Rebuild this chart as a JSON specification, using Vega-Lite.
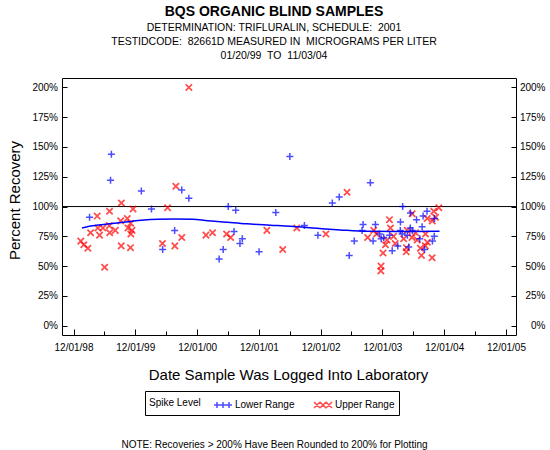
{
  "$schema": "https://vega.github.io/schema/vega-lite/v6.json",
  "width": 454,
  "height": 257,
  "autosize": {"type": "none"},
  "padding": {"left": 62, "top": 78, "right": 34, "bottom": 115},
  "background": "white",
  "title": {
    "text": "BQS ORGANIC BLIND SAMPLES",
    "subtitle": ["DETERMINATION: TRIFLURALIN, SCHEDULE:\u00a0 2001", "TESTIDCODE:\u00a0 82661D MEASURED IN\u00a0 MICROGRAMS PER LITER", "01/20/99\u00a0 TO\u00a0 11/03/04"],
    "anchor": "middle",
    "dx": -15,
    "offset": 17,
    "font": "Liberation Sans",
    "fontSize": 14,
    "fontWeight": "bold",
    "color": "black",
    "subtitleFont": "Liberation Sans",
    "subtitleFontSize": 10.5,
    "subtitleColor": "black",
    "subtitleLineHeight": 14,
    "subtitlePadding": 4
  },
  "datasets": {
    "samples": [
      {"date": "1999-01-13", "recovery": 71, "range": "Upper Range"},
      {"date": "1999-01-31", "recovery": 68, "range": "Upper Range"},
      {"date": "1999-02-24", "recovery": 65, "range": "Upper Range"},
      {"date": "1999-03-12", "recovery": 78, "range": "Upper Range"},
      {"date": "1999-04-20", "recovery": 92, "range": "Upper Range"},
      {"date": "1999-04-24", "recovery": 82, "range": "Upper Range"},
      {"date": "1999-05-04", "recovery": 76, "range": "Upper Range"},
      {"date": "1999-05-24", "recovery": 82, "range": "Upper Range"},
      {"date": "1999-06-03", "recovery": 49, "range": "Upper Range"},
      {"date": "1999-07-02", "recovery": 96, "range": "Upper Range"},
      {"date": "1999-07-01", "recovery": 84, "range": "Upper Range"},
      {"date": "1999-07-03", "recovery": 78, "range": "Upper Range"},
      {"date": "1999-08-05", "recovery": 80, "range": "Upper Range"},
      {"date": "1999-09-10", "recovery": 103, "range": "Upper Range"},
      {"date": "1999-09-06", "recovery": 88, "range": "Upper Range"},
      {"date": "1999-09-09", "recovery": 67, "range": "Upper Range"},
      {"date": "1999-10-15", "recovery": 90, "range": "Upper Range"},
      {"date": "1999-10-19", "recovery": 82, "range": "Upper Range"},
      {"date": "1999-11-04", "recovery": 86, "range": "Upper Range"},
      {"date": "1999-11-18", "recovery": 98, "range": "Upper Range"},
      {"date": "1999-11-12", "recovery": 80, "range": "Upper Range"},
      {"date": "1999-11-05", "recovery": 77, "range": "Upper Range"},
      {"date": "1999-11-03", "recovery": 65.5, "range": "Upper Range"},
      {"date": "2000-05-10", "recovery": 69, "range": "Upper Range"},
      {"date": "2000-06-09", "recovery": 99, "range": "Upper Range"},
      {"date": "2000-07-22", "recovery": 67, "range": "Upper Range"},
      {"date": "2000-07-28", "recovery": 117, "range": "Upper Range"},
      {"date": "2000-09-01", "recovery": 74, "range": "Upper Range"},
      {"date": "2000-10-13", "recovery": 200, "range": "Upper Range"},
      {"date": "2001-01-22", "recovery": 76, "range": "Upper Range"},
      {"date": "2001-03-02", "recovery": 78, "range": "Upper Range"},
      {"date": "2001-05-24", "recovery": 77, "range": "Upper Range"},
      {"date": "2001-06-17", "recovery": 74, "range": "Upper Range"},
      {"date": "2002-01-17", "recovery": 80, "range": "Upper Range"},
      {"date": "2002-04-21", "recovery": 64, "range": "Upper Range"},
      {"date": "2002-07-13", "recovery": 82, "range": "Upper Range"},
      {"date": "2003-01-01", "recovery": 77, "range": "Upper Range"},
      {"date": "2003-05-06", "recovery": 112, "range": "Upper Range"},
      {"date": "2003-09-05", "recovery": 74, "range": "Upper Range"},
      {"date": "2003-10-11", "recovery": 80, "range": "Upper Range"},
      {"date": "2003-10-27", "recovery": 77, "range": "Upper Range"},
      {"date": "2003-11-23", "recovery": 50, "range": "Upper Range"},
      {"date": "2003-11-22", "recovery": 46, "range": "Upper Range"},
      {"date": "2003-12-05", "recovery": 61, "range": "Upper Range"},
      {"date": "2003-12-19", "recovery": 68, "range": "Upper Range"},
      {"date": "2003-12-29", "recovery": 72, "range": "Upper Range"},
      {"date": "2004-01-12", "recovery": 89, "range": "Upper Range"},
      {"date": "2004-01-18", "recovery": 82, "range": "Upper Range"},
      {"date": "2004-02-05", "recovery": 75, "range": "Upper Range"},
      {"date": "2004-02-15", "recovery": 69, "range": "Upper Range"},
      {"date": "2004-04-05", "recovery": 73, "range": "Upper Range"},
      {"date": "2004-04-21", "recovery": 65.5, "range": "Upper Range"},
      {"date": "2004-04-20", "recovery": 62, "range": "Upper Range"},
      {"date": "2004-04-26", "recovery": 80, "range": "Upper Range"},
      {"date": "2004-05-25", "recovery": 94, "range": "Upper Range"},
      {"date": "2004-05-24", "recovery": 74, "range": "Upper Range"},
      {"date": "2004-06-14", "recovery": 78, "range": "Upper Range"},
      {"date": "2004-06-24", "recovery": 72, "range": "Upper Range"},
      {"date": "2004-07-13", "recovery": 65, "range": "Upper Range"},
      {"date": "2004-07-19", "recovery": 59, "range": "Upper Range"},
      {"date": "2004-08-12", "recovery": 77, "range": "Upper Range"},
      {"date": "2004-08-11", "recovery": 67, "range": "Upper Range"},
      {"date": "2004-08-22", "recovery": 90, "range": "Upper Range"},
      {"date": "2004-08-23", "recovery": 70, "range": "Upper Range"},
      {"date": "2004-09-21", "recovery": 88, "range": "Upper Range"},
      {"date": "2004-09-20", "recovery": 57, "range": "Upper Range"},
      {"date": "2004-09-30", "recovery": 96, "range": "Upper Range"},
      {"date": "2004-10-10", "recovery": 91, "range": "Upper Range"},
      {"date": "2004-10-30", "recovery": 99, "range": "Upper Range"},
      {"date": "1999-03-06", "recovery": 91, "range": "Lower Range"},
      {"date": "1999-07-13", "recovery": 144, "range": "Lower Range"},
      {"date": "1999-07-08", "recovery": 122, "range": "Lower Range"},
      {"date": "2000-01-06", "recovery": 113, "range": "Lower Range"},
      {"date": "2000-03-06", "recovery": 98, "range": "Lower Range"},
      {"date": "2000-05-11", "recovery": 64, "range": "Lower Range"},
      {"date": "2000-07-21", "recovery": 80, "range": "Lower Range"},
      {"date": "2000-09-01", "recovery": 114, "range": "Lower Range"},
      {"date": "2000-10-13", "recovery": 107, "range": "Lower Range"},
      {"date": "2001-04-10", "recovery": 56, "range": "Lower Range"},
      {"date": "2001-05-04", "recovery": 64, "range": "Lower Range"},
      {"date": "2001-06-03", "recovery": 100, "range": "Lower Range"},
      {"date": "2001-07-07", "recovery": 79, "range": "Lower Range"},
      {"date": "2001-07-17", "recovery": 97, "range": "Lower Range"},
      {"date": "2001-08-11", "recovery": 69, "range": "Lower Range"},
      {"date": "2001-08-25", "recovery": 73, "range": "Lower Range"},
      {"date": "2001-12-02", "recovery": 62, "range": "Lower Range"},
      {"date": "2002-03-11", "recovery": 95, "range": "Lower Range"},
      {"date": "2002-06-02", "recovery": 142, "range": "Lower Range"},
      {"date": "2002-08-27", "recovery": 84, "range": "Lower Range"},
      {"date": "2002-11-15", "recovery": 76, "range": "Lower Range"},
      {"date": "2003-02-08", "recovery": 103, "range": "Lower Range"},
      {"date": "2003-03-21", "recovery": 108, "range": "Lower Range"},
      {"date": "2003-05-19", "recovery": 59, "range": "Lower Range"},
      {"date": "2003-06-18", "recovery": 71, "range": "Lower Range"},
      {"date": "2003-08-09", "recovery": 85, "range": "Lower Range"},
      {"date": "2003-08-03", "recovery": 80, "range": "Lower Range"},
      {"date": "2003-09-21", "recovery": 120, "range": "Lower Range"},
      {"date": "2003-10-07", "recovery": 71, "range": "Lower Range"},
      {"date": "2003-10-21", "recovery": 85, "range": "Lower Range"},
      {"date": "2003-11-15", "recovery": 77, "range": "Lower Range"},
      {"date": "2003-11-24", "recovery": 73, "range": "Lower Range"},
      {"date": "2003-12-09", "recovery": 74, "range": "Lower Range"},
      {"date": "2004-01-13", "recovery": 76, "range": "Lower Range"},
      {"date": "2004-01-28", "recovery": 63, "range": "Lower Range"},
      {"date": "2004-03-01", "recovery": 67, "range": "Lower Range"},
      {"date": "2004-03-17", "recovery": 87, "range": "Lower Range"},
      {"date": "2004-03-16", "recovery": 80, "range": "Lower Range"},
      {"date": "2004-03-27", "recovery": 77, "range": "Lower Range"},
      {"date": "2004-03-30", "recovery": 100, "range": "Lower Range"},
      {"date": "2004-04-27", "recovery": 76, "range": "Lower Range"},
      {"date": "2004-05-05", "recovery": 66, "range": "Lower Range"},
      {"date": "2004-05-15", "recovery": 94.5, "range": "Lower Range"},
      {"date": "2004-05-14", "recovery": 82, "range": "Lower Range"},
      {"date": "2004-05-26", "recovery": 80, "range": "Lower Range"},
      {"date": "2004-06-20", "recovery": 89, "range": "Lower Range"},
      {"date": "2004-07-09", "recovery": 73, "range": "Lower Range"},
      {"date": "2004-07-23", "recovery": 83, "range": "Lower Range"},
      {"date": "2004-07-29", "recovery": 92, "range": "Lower Range"},
      {"date": "2004-08-06", "recovery": 64, "range": "Lower Range"},
      {"date": "2004-08-21", "recovery": 96, "range": "Lower Range"},
      {"date": "2004-09-22", "recovery": 71, "range": "Lower Range"},
      {"date": "2004-10-04", "recovery": 90, "range": "Lower Range"},
      {"date": "2004-10-03", "recovery": 75, "range": "Lower Range"}
    ],
    "trend": [
      {"date": "1999-01-20", "recovery": 82},
      {"date": "1999-03-24", "recovery": 83.8},
      {"date": "1999-07-20", "recovery": 85.7},
      {"date": "2000-01-06", "recovery": 88.6},
      {"date": "2000-04-12", "recovery": 89.4},
      {"date": "2000-07-22", "recovery": 89.6},
      {"date": "2000-11-06", "recovery": 89.4},
      {"date": "2001-02-02", "recovery": 88},
      {"date": "2001-05-02", "recovery": 87.1},
      {"date": "2001-09-20", "recovery": 85.5},
      {"date": "2002-02-05", "recovery": 84.4},
      {"date": "2002-06-04", "recovery": 83.5},
      {"date": "2002-11-09", "recovery": 81.8},
      {"date": "2003-03-27", "recovery": 80.4},
      {"date": "2003-09-01", "recovery": 79.2},
      {"date": "2004-03-01", "recovery": 79.1},
      {"date": "2004-11-03", "recovery": 79.3}
    ],
    "ref": [{"recovery": 100}]
  },
  "config": {
    "view": {"stroke": "black", "strokeWidth": 1},
    "font": "Liberation Sans",
    "axis": {"labelColor": "black", "titleColor": "black", "tickColor": "black", "labelFont": "Liberation Sans", "titleFont": "Liberation Sans", "grid": false, "domain": false}
  },
  "resolve": {
    "axis": {"x": "independent", "y": "independent"},
    "scale": {"color": "independent", "shape": "independent"}
  },
  "layer": [
    {
      "data": {"name": "ref"},
      "mark": {"type": "rule", "color": "black", "strokeWidth": 1},
      "encoding": {
        "y": {"field": "recovery", "type": "quantitative", "axis": null, "scale": {"domain": [-7.8, 207.9], "nice": false, "zero": false}}
      }
    },
    {
      "data": {"name": "samples"},
      "mark": {"type": "point", "filled": false},
      "encoding": {
        "x": {
          "field": "date", "type": "temporal",
          "scale": {"type": "utc", "domain": [{"year": 1998, "month": 9, "date": 24, "utc": true}, {"year": 2006, "month": 1, "date": 29, "utc": true}]},
          "axis": {
            "orient": "bottom",
            "title": "Date Sample Was Logged Into Laboratory",
            "titleFontSize": 15,
            "titleFontWeight": "normal",
            "titleBaseline": "alphabetic",
            "titleAlign": "center",
            "titleX": 226,
            "titleY": 44,
            "values": [
              {"year": 1998, "month": 12, "date": 1, "utc": true},
              {"year": 1999, "month": 6, "date": 1, "utc": true},
              {"year": 1999, "month": 12, "date": 1, "utc": true},
              {"year": 2000, "month": 6, "date": 1, "utc": true},
              {"year": 2000, "month": 12, "date": 1, "utc": true},
              {"year": 2001, "month": 6, "date": 1, "utc": true},
              {"year": 2001, "month": 12, "date": 1, "utc": true},
              {"year": 2002, "month": 6, "date": 1, "utc": true},
              {"year": 2002, "month": 12, "date": 1, "utc": true},
              {"year": 2003, "month": 6, "date": 1, "utc": true},
              {"year": 2003, "month": 12, "date": 1, "utc": true},
              {"year": 2004, "month": 6, "date": 1, "utc": true},
              {"year": 2004, "month": 12, "date": 1, "utc": true},
              {"year": 2005, "month": 6, "date": 1, "utc": true},
              {"year": 2005, "month": 12, "date": 1, "utc": true}
            ],
            "labelExpr": "utcmonth(datum.value) == 11 ? utcFormat(datum.value, '%m/%d/%y') : ''",
            "labelFontSize": 10,
            "labelFlush": false,
            "labelOverlap": false,
            "tickSize": {"condition": {"test": "utcmonth(datum.value) == 11", "value": -6}, "value": -4},
            "labelPadding": 13
          }
        },
        "y": {
          "field": "recovery", "type": "quantitative",
          "scale": {"domain": [-7.8, 207.9], "nice": false, "zero": false},
          "axis": {
            "orient": "left",
            "title": "Percent Recovery",
            "titleFontSize": 15,
            "titleFontWeight": "normal",
            "titleAngle": -90,
            "titleAlign": "center",
            "titleBaseline": "alphabetic",
            "titleX": -43,
            "titleY": 122,
            "values": [0, 25, 50, 75, 100, 125, 150, 175, 200],
            "labelExpr": "datum.value + '%'",
            "labelFontSize": 10,
            "labelFlush": false,
            "tickSize": -5,
            "labelPadding": 9.5
          }
        },
        "color": {
          "field": "range", "type": "nominal",
          "scale": {"domain": ["Lower Range", "Upper Range"], "range": ["#0000ff", "#ff0000"]},
          "legend": null
        },
        "shape": {
          "field": "range", "type": "nominal",
          "scale": {"domain": ["Lower Range", "Upper Range"], "range": ["M-1,0H1M0,-1V1", "M-1,-1L1,1M-1,1L1,-1"]},
          "legend": null
        },
        "size": {"condition": {"test": "datum.range === 'Upper Range'", "value": 40}, "value": 49},
        "strokeWidth": {"condition": {"test": "datum.range === 'Upper Range'", "value": 1.75}, "value": 1.5}
      }
    },
    {
      "data": {"name": "trend"},
      "mark": {"type": "line", "color": "#0000ff", "strokeWidth": 1.5, "interpolate": "monotone"},
      "encoding": {
        "x": {"field": "date", "type": "temporal", "axis": null, "scale": {"type": "utc", "domain": [{"year": 1998, "month": 9, "date": 24, "utc": true}, {"year": 2006, "month": 1, "date": 29, "utc": true}]}},
        "y": {"field": "recovery", "type": "quantitative", "axis": null, "scale": {"domain": [-7.8, 207.9], "nice": false, "zero": false}}
      }
    },
    {
      "data": {"name": "samples"},
      "transform": [{"filter": "false"}],
      "mark": {"type": "point", "filled": false, "strokeWidth": 1.5},
      "encoding": {
        "x": {"field": "date", "type": "temporal", "axis": null, "scale": {"type": "utc", "domain": [{"year": 1998, "month": 9, "date": 24, "utc": true}, {"year": 2006, "month": 1, "date": 29, "utc": true}]}},
        "y": {"field": "recovery", "type": "quantitative", "axis": null, "scale": {"domain": [-7.8, 207.9], "nice": false, "zero": false}},
        "color": {
          "field": "range", "type": "nominal",
          "scale": {"domain": ["Lower Range", "Upper Range"], "range": ["#0000ff", "#ff0000"]},
          "legend": {
            "orient": "none",
            "legendX": 83,
            "legendY": 313,
            "direction": "horizontal",
            "title": "Spike Level",
            "titleOrient": "left",
            "titleFontSize": 10,
            "titleFontWeight": "normal",
            "titleColor": "black",
            "titlePadding": 12,
            "labelFontSize": 10,
            "labelColor": "black",
            "labelOffset": 2,
            "columnPadding": 16,
            "strokeColor": "black",
            "padding": 4,
            "symbolSize": 324,
            "symbolStrokeWidth": 1.5
          }
        },
        "shape": {
          "field": "range", "type": "nominal",
          "scale": {"domain": ["Lower Range", "Upper Range"], "range": ["M-1,0H1M-0.67,-0.33V0.33M0,-0.33V0.33M0.67,-0.33V0.33", "M-1,-0.33L-0.33,0.33M-1,0.33L-0.33,-0.33M-0.33,-0.33L0.33,0.33M-0.33,0.33L0.33,-0.33M0.33,-0.33L1,0.33M0.33,0.33L1,-0.33"]},
          "legend": {
            "orient": "none",
            "legendX": 83,
            "legendY": 313,
            "direction": "horizontal",
            "title": "Spike Level",
            "titleOrient": "left",
            "titleFontSize": 10,
            "titleFontWeight": "normal",
            "titleColor": "black",
            "titlePadding": 12,
            "labelFontSize": 10,
            "labelColor": "black",
            "labelOffset": 2,
            "columnPadding": 16,
            "strokeColor": "black",
            "padding": 4,
            "symbolSize": 324,
            "symbolStrokeWidth": 1.5
          }
        }
      }
    },
    {
      "data": {"name": "samples"},
      "mark": {"type": "point", "opacity": 0},
      "encoding": {
        "x": {
          "field": "date", "type": "temporal",
          "scale": {"type": "utc", "domain": [{"year": 1998, "month": 9, "date": 24, "utc": true}, {"year": 2006, "month": 1, "date": 29, "utc": true}]},
          "axis": {
            "orient": "bottom",
            "labels": false,
            "ticks": false,
            "domain": false,
            "title": "NOTE: Recoveries > 200% Have Been Rounded to 200% for Plotting",
            "titleFontSize": 10,
            "titleFontWeight": "normal",
            "titleBaseline": "alphabetic",
            "titleAlign": "center",
            "titleX": 212,
            "titleY": 112.5
          }
        },
        "y": {
          "field": "recovery", "type": "quantitative",
          "scale": {"domain": [-7.8, 207.9], "nice": false, "zero": false},
          "axis": {
            "orient": "right",
            "title": null,
            "values": [0, 25, 50, 75, 100, 125, 150, 175, 200],
            "labelExpr": "datum.value + '%'",
            "labelFontSize": 10,
            "labelFlush": false,
            "labelAlign": "right",
            "tickSize": -5,
            "labelPadding": 34
          }
        }
      }
    }
  ]
}
